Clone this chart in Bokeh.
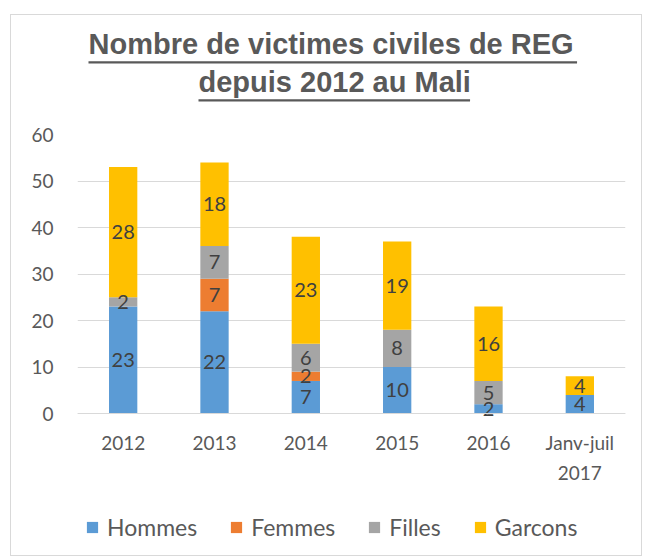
from bokeh.plotting import figure
from bokeh.models import (Range1d, Legend, LegendItem, ColumnDataSource, FixedTicker,
                          LinearAxis, Title)
from bokeh.core.properties import value
from bokeh.embed import file_html
from bokeh.resources import INLINE

categories = ["2012", "2013", "2014", "2015", "2016", "Janv-juil 2017"]
tick_line1 = ["2012", "2013", "2014", "2015", "2016", "Janv-juil"]
tick_line2 = ["", "", "", "", "", "2017"]
y_ticks = [0, 10, 20, 30, 40, 50, 60]
series_names = ["Hommes", "Femmes", "Filles", "Garcons"]
hommes = [23, 22, 7, 10, 2, 4]
femmes = [0, 7, 2, 0, 0, 0]
filles = [2, 7, 6, 8, 5, 0]
garcons = [28, 18, 23, 19, 16, 4]
colors = ["#5B9BD5", "#ED7D31", "#A5A5A5", "#FFC000"]
title_lines = ["Nombre de victimes civiles de REG", "depuis 2012 au Mali"]

# layout: the plot frame extends below y=0 to host the axis labels and the legend
Y_MIN = -29.46

xpos = list(range(len(categories)))
data = {"x": xpos, "Hommes": hommes, "Femmes": femmes, "Filles": filles, "Garcons": garcons}
src = ColumnDataSource(data)

p = figure(x_range=Range1d(-0.5, len(categories) - 0.5), y_range=Range1d(Y_MIN, max(y_ticks)),
           width=632, height=542, output_backend="svg", toolbar_location=None,
           min_border_left=66, min_border_right=18, min_border_top=119, min_border_bottom=7)
p.styles = {"margin-left": "10px", "margin-top": "14px", "border": "1px solid #d9d9d9"}

renderers = p.vbar_stack(series_names, x="x", width=0.31, color=colors, line_color=None, source=src)

# data labels
lx, ly, lt = [], [], []
base = [0] * len(categories)
for vals in [hommes, femmes, filles, garcons]:
    for i, v in enumerate(vals):
        if v > 0:
            lx.append(xpos[i])
            ly.append(base[i] + v / 2)
            lt.append(str(v))
        base[i] += v
p.text(x=lx, y=ly, text=lt, text_align="center", text_baseline="middle",
       text_font=value("Lato"), text_font_size="20px", text_color="#404040")

# title: two underlined lines (items of p.above go outward from the plot)
def title_text(t, offset):
    t.align = "left"
    t.offset = offset
    t.text_font = "Liberation Sans"
    t.text_font_style = "bold"
    t.text_font_size = "29px"
    t.text_color = "#595959"
    t.standoff = 0
    return t

def bar_title(offset, length, standoff=0, fill="#595959"):
    return Title(text=" ", align="left", offset=offset, text_font_size="2px",
                 background_fill_color=fill, standoff=standoff,
                 padding=dict(left=0, right=length, top=0, bottom=0))

p.add_layout(Title(text=" ", text_font_size="2px", standoff=29), "above")   # spacer
p.add_layout(bar_title(121, 271), "above")                                # underline line 2
p.add_layout(title_text(Title(text=title_lines[1]), 121), "above")
p.add_layout(bar_title(11, 488), "above")                                 # underline line 1
p.title.text = title_lines[0]
title_text(p.title, 11)

# axes
p.yaxis.ticker = FixedTicker(ticks=y_ticks)
p.xaxis.ticker = FixedTicker(ticks=xpos)
x2 = LinearAxis(ticker=FixedTicker(ticks=xpos))
p.add_layout(x2, "below")
for ax in [p.xaxis[0], x2, p.yaxis[0]]:
    ax.major_tick_line_color = None
    ax.minor_tick_line_color = None
    ax.major_tick_out = 0
    ax.major_tick_in = 0
    ax.major_label_text_font = "Lato"
    ax.major_label_text_font_size = "19px"
    ax.major_label_text_color = "#595959"
p.yaxis.axis_line_color = None
p.yaxis.major_label_standoff = 24
p.xaxis[0].fixed_location = 0
p.xaxis[0].axis_line_color = "#d9d9d9"
p.xaxis[0].major_label_standoff = 17
p.xaxis[0].major_label_overrides = dict(zip(xpos, tick_line1))
x2.fixed_location = 0
x2.axis_line_color = None
x2.major_label_standoff = 52
x2.major_label_overrides = dict(zip(xpos, tick_line2))
p.xgrid.grid_line_color = None
p.ygrid.grid_line_color = "#d9d9d9"
p.outline_line_color = None

legend = Legend(items=[LegendItem(label=n, renderers=[r]) for n, r in zip(series_names, renderers)],
                orientation="horizontal", location=(8, 9),
                glyph_width=14, glyph_height=14, label_standoff=8, spacing=32,
                label_text_font="Lato", label_text_font_size="23px", label_text_color="#595959",
                border_line_color=None, background_fill_alpha=0, padding=0, margin=0)
p.add_layout(legend)

open("out.html", "w").write(file_html(p, INLINE))
